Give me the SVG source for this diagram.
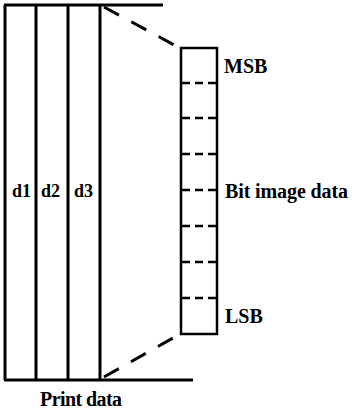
<svg xmlns="http://www.w3.org/2000/svg" width="352" height="414" viewBox="0 0 352 414">
<style>
text{font-family:"Liberation Serif","Times New Roman",Times,serif;font-size:20px;font-weight:bold;fill:#000}
.sm{font-size:18px}
.s{stroke:#000;stroke-width:3;fill:none}
.b{stroke:#000;stroke-width:2.5;fill:none}
.d{stroke:#000;stroke-width:3;fill:none;stroke-dasharray:17 14}
.sep{stroke:#000;stroke-width:2.5;fill:none;stroke-dasharray:8 5}
</style>
<rect width="352" height="414" fill="#fff"/>
<g id="print-data">
<line class="s" x1="4" y1="5" x2="163" y2="5"/>
<line class="s" x1="4" y1="380" x2="193" y2="380"/>
<line class="s" x1="5" y1="5" x2="5" y2="380"/>
<line class="s" x1="36" y1="5" x2="36" y2="380"/>
<line class="s" x1="68" y1="5" x2="68" y2="380"/>
<line class="s" x1="100" y1="5" x2="100" y2="380"/>
<text class="sm" x="12" y="197">d1</text>
<text class="sm" x="41" y="197">d2</text>
<text class="sm" x="74" y="197">d3</text>
<text x="40" y="406" textLength="82">Print data</text>
</g>
<g id="bit-image">
<rect class="b" x="181" y="48" width="36" height="286"/>
<line class="sep" x1="182" y1="83" x2="216" y2="83"/>
<line class="sep" x1="182" y1="118" x2="216" y2="118"/>
<line class="sep" x1="182" y1="154" x2="216" y2="154"/>
<line class="sep" x1="182" y1="190" x2="216" y2="190"/>
<line class="sep" x1="182" y1="226" x2="216" y2="226"/>
<line class="sep" x1="182" y1="262" x2="216" y2="262"/>
<line class="sep" x1="182" y1="298" x2="216" y2="298"/>
<text x="224" y="73">MSB</text>
<text x="225" y="198" textLength="123">Bit image data</text>
<text x="225" y="323">LSB</text>
</g>
<g id="connectors">
<line class="d" x1="104" y1="7" x2="178" y2="47"/>
<line class="d" x1="104" y1="377" x2="180" y2="334"/>
</g>
</svg>
